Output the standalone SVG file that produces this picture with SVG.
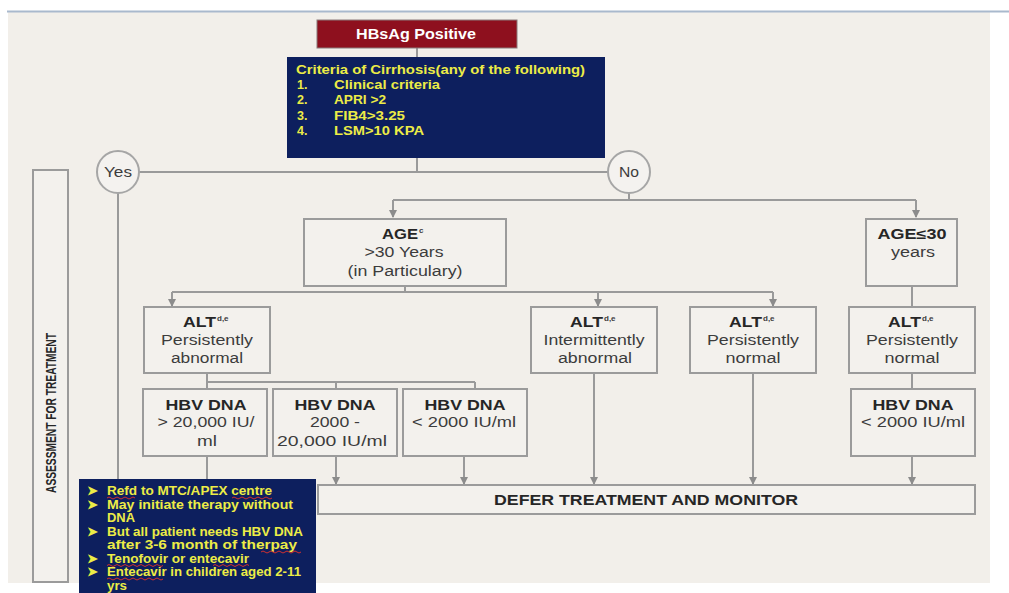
<svg xmlns="http://www.w3.org/2000/svg" width="1009" height="593" viewBox="0 0 1009 593">
<defs>
<marker id="arr" markerWidth="8" markerHeight="8" refX="7" refY="4" orient="auto" markerUnits="userSpaceOnUse">
<path d="M0,0 L8,4 L0,8 z" fill="#8c8c8c"/>
</marker>
<style>
.box{fill:#f3f1ed;stroke:#9b9b9b;stroke-width:2}
.circ{fill:#f4f2ef;stroke:#a6a6a6;stroke-width:2}
.conn{fill:none;stroke:#9a9a9a;stroke-width:2}
.t{font-family:"Liberation Sans",Arial,sans-serif;font-size:14px;fill:#3c3c3c;text-anchor:middle}
.s{font-family:"Liberation Sans",Arial,sans-serif;font-size:8px;font-weight:bold;fill:#3c3c3c}
.b{font-weight:bold;fill:#262626}
.st{text-anchor:start}
.y{font-family:"Liberation Sans",Arial,sans-serif;font-size:12.5px;font-weight:bold;fill:#ecec46}
.sq{fill:none;stroke:#d03030;stroke-width:1}
</style>
</defs>
<rect x="0" y="0" width="1009" height="593" fill="#ffffff"/>
<rect x="8" y="12" width="982" height="571" fill="#f2efea"/>
<line x1="7" y1="11.5" x2="1009" y2="11.5" stroke="#a9b9cd" stroke-width="2"/>

<g id="connectors">
<path class="conn" d="M417,48 V57"/>
<path class="conn" d="M417,158 V172"/>
<path class="conn" d="M139,172 H608"/>
<path class="conn" d="M118,193 V480"/>
<path class="conn" d="M629,193 V200"/>
<path class="conn" d="M393,200 H916"/>
<path class="conn" d="M393,200 V217" marker-end="url(#arr)"/>
<path class="conn" d="M916,200 V217" marker-end="url(#arr)"/>
<path class="conn" d="M405,286 V292"/>
<path class="conn" d="M172,292 H773"/>
<path class="conn" d="M172,292 V306" marker-end="url(#arr)"/>
<path class="conn" d="M598,292 V306" marker-end="url(#arr)"/>
<path class="conn" d="M773,292 V306" marker-end="url(#arr)"/>
<path class="conn" d="M912,286 V307"/>
<path class="conn" d="M207,373 V382"/>
<path class="conn" d="M206,382 H475"/>
<path class="conn" d="M207,382 V389"/>
<path class="conn" d="M336,382 V389"/>
<path class="conn" d="M475,382 V389"/>
<path class="conn" d="M912,373 V389"/>
<path class="conn" d="M207,456 V480"/>
<path class="conn" d="M336,456 V484" marker-end="url(#arr)"/>
<path class="conn" d="M464,456 V484" marker-end="url(#arr)"/>
<path class="conn" d="M594,373 V484" marker-end="url(#arr)"/>
<path class="conn" d="M753,373 V484" marker-end="url(#arr)"/>
<path class="conn" d="M912,456 V484" marker-end="url(#arr)"/>
</g>

<g id="label-assessment">
<rect class="box" x="33" y="170" width="35" height="412"/>
<text class="t b" transform="translate(56,413) rotate(-90)" font-size="13" textLength="160" lengthAdjust="spacingAndGlyphs">ASSESSMENT FOR TREATMENT</text>
</g>

<g id="hbsag">
<rect x="317" y="20" width="200" height="28" fill="#8e101e" stroke="#8a7a7a" stroke-width="1"/>
<text class="t" x="416" y="39" style="fill:#ffffff;font-weight:bold" textLength="120" lengthAdjust="spacingAndGlyphs">HBsAg Positive</text>
</g>

<g id="criteria">
<rect x="287" y="57" width="318" height="101" fill="#0d1f5e"/>
<text class="y" x="296" y="74" font-size="13" textLength="289" lengthAdjust="spacingAndGlyphs">Criteria of Cirrhosis(any of the following)</text>
<text class="y" x="297" y="89">1.</text><text class="y" x="334" y="89" textLength="106" lengthAdjust="spacingAndGlyphs">Clinical criteria</text>
<text class="y" x="297" y="104">2.</text><text class="y" x="334" y="104" textLength="52" lengthAdjust="spacingAndGlyphs">APRI &gt;2</text>
<text class="y" x="297" y="120">3.</text><text class="y" x="334" y="120" textLength="71" lengthAdjust="spacingAndGlyphs">FIB4&gt;3.25</text>
<text class="y" x="297" y="135">4.</text><text class="y" x="334" y="135" textLength="90" lengthAdjust="spacingAndGlyphs">LSM&gt;10 KPA</text>
</g>

<g id="yes">
<circle class="circ" cx="118" cy="172" r="21"/>
<text class="t" x="118" y="177" textLength="28" lengthAdjust="spacingAndGlyphs">Yes</text>
</g>
<g id="no">
<circle class="circ" cx="629" cy="172" r="21"/>
<text class="t" x="629" y="177" textLength="20" lengthAdjust="spacingAndGlyphs">No</text>
</g>

<g id="age-gt30">
<rect class="box" x="304" y="219" width="202" height="67"/>
<text class="t b st" x="382" y="239" textLength="36" lengthAdjust="spacingAndGlyphs">AGE</text><text class="s" x="419" y="233">c</text>
<text class="t" x="404" y="257" textLength="79" lengthAdjust="spacingAndGlyphs">&gt;30 Years</text>
<text class="t" x="405" y="276" textLength="115" lengthAdjust="spacingAndGlyphs">(in Particulary)</text>
</g>

<g id="age-le30">
<rect class="box" x="866" y="219" width="91" height="67"/>
<text class="t b" x="912" y="239" textLength="69" lengthAdjust="spacingAndGlyphs">AGE≤30</text>
<text class="t" x="913" y="257" textLength="44" lengthAdjust="spacingAndGlyphs">years</text>
</g>

<g id="alt-pers-abn">
<rect class="box" x="144" y="307" width="126" height="66"/>
<text class="t b st" x="183" y="327" textLength="33" lengthAdjust="spacingAndGlyphs">ALT</text><text class="s" x="217" y="321">d,e</text>
<text class="t" x="207" y="345" textLength="92" lengthAdjust="spacingAndGlyphs">Persistently</text>
<text class="t" x="207" y="363" textLength="72" lengthAdjust="spacingAndGlyphs">abnormal</text>
</g>

<g id="alt-inter">
<rect class="box" x="531" y="307" width="126" height="66"/>
<text class="t b st" x="570" y="327" textLength="33" lengthAdjust="spacingAndGlyphs">ALT</text><text class="s" x="604" y="321">d,e</text>
<text class="t" x="594" y="345" textLength="101" lengthAdjust="spacingAndGlyphs">Intermittently</text>
<text class="t" x="595" y="363" textLength="74" lengthAdjust="spacingAndGlyphs">abnormal</text>
</g>

<g id="alt-pers-norm">
<rect class="box" x="690" y="307" width="126" height="66"/>
<text class="t b st" x="729" y="327" textLength="33" lengthAdjust="spacingAndGlyphs">ALT</text><text class="s" x="763" y="321">d,e</text>
<text class="t" x="753" y="345" textLength="92" lengthAdjust="spacingAndGlyphs">Persistently</text>
<text class="t" x="753" y="363" textLength="55" lengthAdjust="spacingAndGlyphs">normal</text>
</g>

<g id="alt-pers-norm-young">
<rect class="box" x="849" y="307" width="126" height="66"/>
<text class="t b st" x="888" y="327" textLength="33" lengthAdjust="spacingAndGlyphs">ALT</text><text class="s" x="922" y="321">d,e</text>
<text class="t" x="912" y="345" textLength="92" lengthAdjust="spacingAndGlyphs">Persistently</text>
<text class="t" x="912" y="363" textLength="55" lengthAdjust="spacingAndGlyphs">normal</text>
</g>

<g id="hbv-high">
<rect class="box" x="143" y="389" width="124" height="67"/>
<text class="t b" x="206" y="410" textLength="81" lengthAdjust="spacingAndGlyphs">HBV DNA</text>
<text class="t" x="206" y="427" textLength="97" lengthAdjust="spacingAndGlyphs">&gt; 20,000 IU/</text>
<text class="t" x="207" y="446" textLength="20" lengthAdjust="spacingAndGlyphs">ml</text>
</g>

<g id="hbv-mid">
<rect class="box" x="273" y="389" width="124" height="67"/>
<text class="t b" x="335" y="410" textLength="81" lengthAdjust="spacingAndGlyphs">HBV DNA</text>
<text class="t" x="335" y="427" textLength="50" lengthAdjust="spacingAndGlyphs">2000 -</text>
<text class="t" x="332" y="446" textLength="110" lengthAdjust="spacingAndGlyphs">20,000 IU/ml</text>
</g>

<g id="hbv-low">
<rect class="box" x="403" y="389" width="124" height="67"/>
<text class="t b" x="465" y="410" textLength="81" lengthAdjust="spacingAndGlyphs">HBV DNA</text>
<text class="t" x="464" y="427" textLength="104" lengthAdjust="spacingAndGlyphs">&lt; 2000 IU/ml</text>
</g>

<g id="hbv-low-young">
<rect class="box" x="851" y="389" width="124" height="67"/>
<text class="t b" x="913" y="410" textLength="81" lengthAdjust="spacingAndGlyphs">HBV DNA</text>
<text class="t" x="913" y="427" textLength="104" lengthAdjust="spacingAndGlyphs">&lt; 2000 IU/ml</text>
</g>

<g id="defer">
<rect class="box" x="318" y="485" width="657" height="29"/>
<text class="t b" x="646" y="505" textLength="304" lengthAdjust="spacingAndGlyphs">DEFER TREATMENT AND MONITOR</text>
</g>

<g id="treat">
<rect x="79" y="479" width="237" height="120" fill="#0d1f5e"/>
<text class="y" x="87" y="495">➤</text><text class="y" x="107" y="495" textLength="165" lengthAdjust="spacingAndGlyphs">Refd to MTC/APEX centre</text>
<text class="y" x="87" y="508.5">➤</text><text class="y" x="107" y="508.5" textLength="186" lengthAdjust="spacingAndGlyphs">May initiate therapy without</text>
<text class="y" x="107" y="522" textLength="28" lengthAdjust="spacingAndGlyphs">DNA</text>
<text class="y" x="87" y="535.5">➤</text><text class="y" x="107" y="535.5" textLength="196" lengthAdjust="spacingAndGlyphs">But all patient needs HBV DNA</text>
<text class="y" x="107" y="549" textLength="190" lengthAdjust="spacingAndGlyphs">after 3-6 month of therpay</text>
<text class="y" x="87" y="562.5">➤</text><text class="y" x="107" y="562.5" textLength="142" lengthAdjust="spacingAndGlyphs">Tenofovir or entecavir</text>
<text class="y" x="87" y="576">➤</text><text class="y" x="107" y="576" textLength="194" lengthAdjust="spacingAndGlyphs">Entecavir in children aged 2-11</text>
<text class="y" x="107" y="589.5" font-size="11.5" textLength="20" lengthAdjust="spacingAndGlyphs">yrs</text>
<path class="sq" d="M107,498 q2,-2 4,0 t4,0 t4,0 t4,0 t4,0 t4,0 t4,0"/>
<path class="sq" d="M232,498 q2,-2 4,0 t4,0 t4,0 t4,0 t4,0 t4,0 t4,0 t4,0 t4,0 t4,0"/>
<path class="sq" d="M261,552 q2,-2 4,0 t4,0 t4,0 t4,0 t4,0 t4,0 t4,0 t4,0 t4,0 t4,0"/>
<path class="sq" d="M107,565.5 q2,-2 4,0 t4,0 t4,0 t4,0 t4,0 t4,0 t4,0 t4,0 t4,0 t4,0 t4,0 t4,0 t4,0 t4,0"/>
<path class="sq" d="M213,565.5 q2,-2 4,0 t4,0 t4,0 t4,0 t4,0 t4,0 t4,0 t4,0 t4,0"/>
<path class="sq" d="M107,579 q2,-2 4,0 t4,0 t4,0 t4,0 t4,0 t4,0 t4,0 t4,0 t4,0 t4,0 t4,0 t4,0 t4,0 t4,0"/>
</g>
</svg>
